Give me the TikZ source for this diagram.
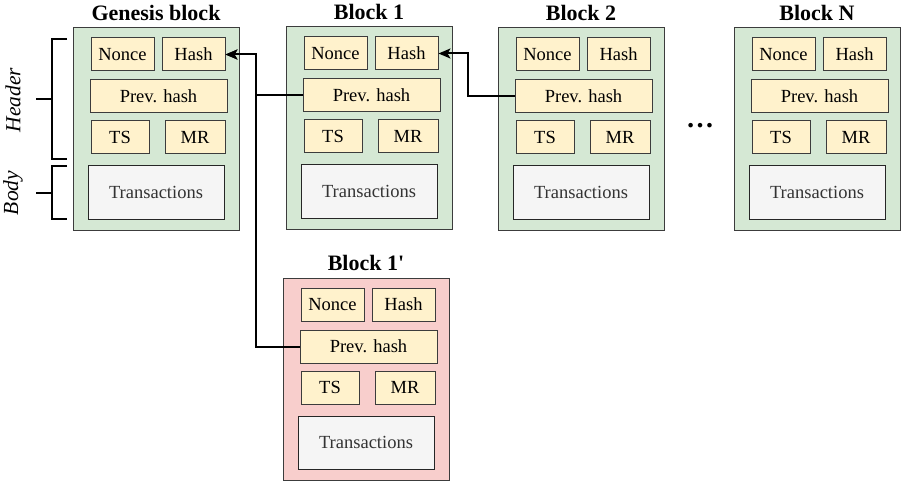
\documentclass[tikz,border=0pt]{standalone}
\usepackage{fontspec}
\IfFontExistsTF{LiberationSerif-Regular.ttf}{%
  \setmainfont{LiberationSerif}[Extension=.ttf, UprightFont=*-Regular, BoldFont=*-Bold,
    ItalicFont=*-Italic, BoldItalicFont=*-BoldItalic, Ligatures=TeXOff]}{%
  \setmainfont{Liberation Serif}[Ligatures=TeXOff]}
\usetikzlibrary{arrows.meta}
\definecolor{blockgreen}{HTML}{D5E8D4}
\definecolor{blockred}{HTML}{F8CECC}
\definecolor{fieldyellow}{HTML}{FFF2CC}
\definecolor{txgray}{HTML}{F5F5F5}
\definecolor{edgegray}{HTML}{3C3C3C}
\definecolor{txtext}{HTML}{333333}
\tikzset{
  blockbox/.style={draw=edgegray, line width=1pt, minimum width=166pt, minimum height=202pt, inner sep=0pt},
  fieldbox/.style={draw=edgegray, fill=fieldyellow, line width=1pt, minimum height=33pt, inner sep=0pt,
    font=\fontsize{18.5}{20}\selectfont},
  txbox/.style={draw=black!85, fill=txgray, line width=1pt, minimum width=136pt, minimum height=53pt, inner sep=0pt,
    text=txtext, font=\fontsize{18.5}{20}\selectfont},
  blocktitle/.style={font=\fontsize{22}{24}\selectfont\bfseries, inner sep=0pt},
  sidelabel/.style={font=\fontsize{21.5}{24}\selectfont\itshape, rotate=90, inner sep=0pt},
  link/.style={draw=black, line width=2pt, -{Stealth[length=12pt,width=10pt,inset=3pt]}},
  bracket/.style={draw=black, line width=2pt},
}
% #1 name, #2 left, #3 top, #4 fill, #5 title
\newcommand\chainblock[5]{%
  \node[blockbox, fill=#4] (#1) at (#2+83, #3+101) {};
  \node[blocktitle] (#1-title) at (#2+83, #3-15) {#5};
  \node[fieldbox, minimum width=63pt] (#1-nonce) at (#2+49.5, #3+26.5) {Nonce};
  \node[fieldbox, minimum width=63pt] (#1-hash) at (#2+120.5, #3+26.5) {Hash};
  \node[fieldbox, minimum width=137pt] (#1-prev) at (#2+85.5, #3+68.5) {Prev. hash};
  \node[fieldbox, minimum width=58pt] (#1-ts) at (#2+47, #3+109.5) {TS};
  \node[fieldbox, minimum width=60pt] (#1-mr) at (#2+122, #3+109.5) {MR};
  \node[txbox] (#1-tx) at (#2+83, #3+164.5) {Transactions};
}
\begin{document}
\begin{tikzpicture}[x=1pt, y=-1pt]
\useasboundingbox (0,0) rectangle (901,481);
\chainblock{g}{73}{28}{blockgreen}{Genesis block}
\chainblock{b1}{286}{27}{blockgreen}{Block 1}
\chainblock{b2}{498}{28}{blockgreen}{Block 2}
\chainblock{bn}{734}{28}{blockgreen}{Block N}
\chainblock{bp}{283}{278}{blockred}{Block 1'}
\node[font=\fontsize{28}{30}\selectfont\bfseries, inner sep=0pt] (dots) at (700,126) {…};
% junctions
\coordinate (j1) at (256,0);
\coordinate (j2) at (468,0);
\draw[link] (b1-prev.west) -- (b1-prev.west -| j1) |- (g-hash.east);
\draw[link] (bp-prev.west) -- (bp-prev.west -| j1) |- (g-hash.east);
\draw[link] (b2-prev.west) -- (b2-prev.west -| j2) |- (b1-hash.east);
% brackets
\draw[bracket] (67,39) -- (52,39) -- (52,159) -- (67,159);
\draw[bracket] (36,99) -- (52,99);
\draw[bracket] (67,166) -- (52,166) -- (52,219) -- (67,219);
\draw[bracket] (36,193) -- (52,193);
\node[sidelabel] (header) at (13,100) {Header};
\node[sidelabel] (body) at (13,193) {Body};
\end{tikzpicture}
\end{document}
